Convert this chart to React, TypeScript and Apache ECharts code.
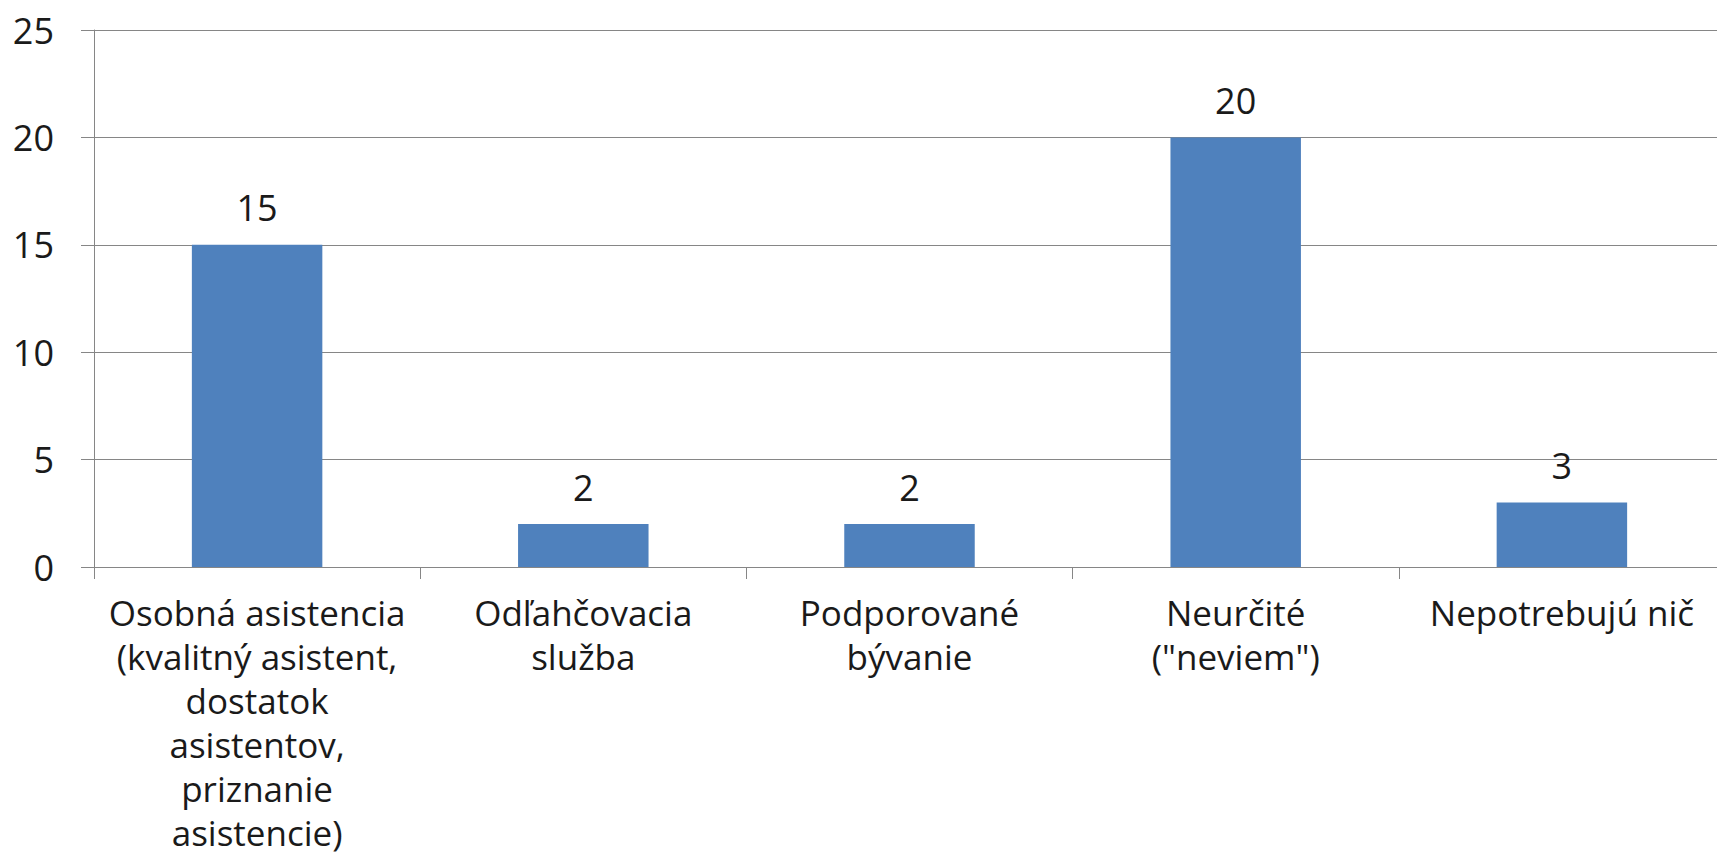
import React, { useEffect, useRef } from "react";
import * as echarts from "echarts";

const categories = [
  "Osobná asistencia\n(kvalitný asistent,\ndostatok\nasistentov,\npriznanie\nasistencie)",
  "Odľahčovacia\nslužba",
  "Podporované\nbývanie",
  "Neurčité\n(\"neviem\")",
  "Nepotrebujú nič",
];
const values = [15, 2, 2, 20, 3];
const yTicks = { min: 0, max: 25, interval: 5 };

const FONT = "'Open Sans', sans-serif";
const GRAY = "#868686";
const TEXT = "#1a1a1a";
const FS = 36;

export default function App() {
  const ref = useRef<HTMLDivElement>(null);
  useEffect(() => {
    document.body.style.margin = "0";
    const chart = echarts.init(ref.current!, null, { renderer: "svg" });
    chart.setOption({
      animation: false,
      backgroundColor: "#ffffff",
      textStyle: { fontFamily: FONT },
      grid: { left: 94, right: 20, top: 30, bottom: 294, containLabel: false, outerBoundsMode: "none" },
      xAxis: {
        type: "category",
        data: categories,
        boundaryGap: true,
        axisLine: { show: true, lineStyle: { color: GRAY, width: 1 } },
        axisTick: { show: true, length: 12, alignWithLabel: false, lineStyle: { color: GRAY } },
        axisLabel: {
          interval: 0,
          margin: 23,
          color: TEXT,
          fontSize: 35,
          lineHeight: 44,
          fontFamily: FONT,
          align: "center",
          hideOverlap: false,
        },
        splitLine: { show: false },
      },
      yAxis: {
        type: "value",
        min: yTicks.min,
        max: yTicks.max,
        interval: yTicks.interval,
        axisLine: { show: true, lineStyle: { color: GRAY, width: 1 } },
        axisTick: { show: true, length: 13, lineStyle: { color: GRAY } },
        axisLabel: { margin: 40, color: TEXT, fontSize: FS, fontFamily: FONT },
        splitLine: { show: true, lineStyle: { color: GRAY, width: 1 } },
      },
      series: [
        {
          type: "bar",
          data: values,
          barWidth: "40%",
          itemStyle: { color: "#4F81BD" },
          label: {
            show: true,
            position: "top",
            distance: 19,
            color: TEXT,
            fontSize: FS,
            fontFamily: FONT,
          },
        },
      ],
    });
    return () => chart.dispose();
  }, []);
  return (
    <div style={{ position: "absolute", left: 0, top: 0, width: 1717, height: 861, overflow: "hidden", background: "#fff" }}>
      <div ref={ref} style={{ width: 1745, height: 861 }} />
    </div>
  );
}
